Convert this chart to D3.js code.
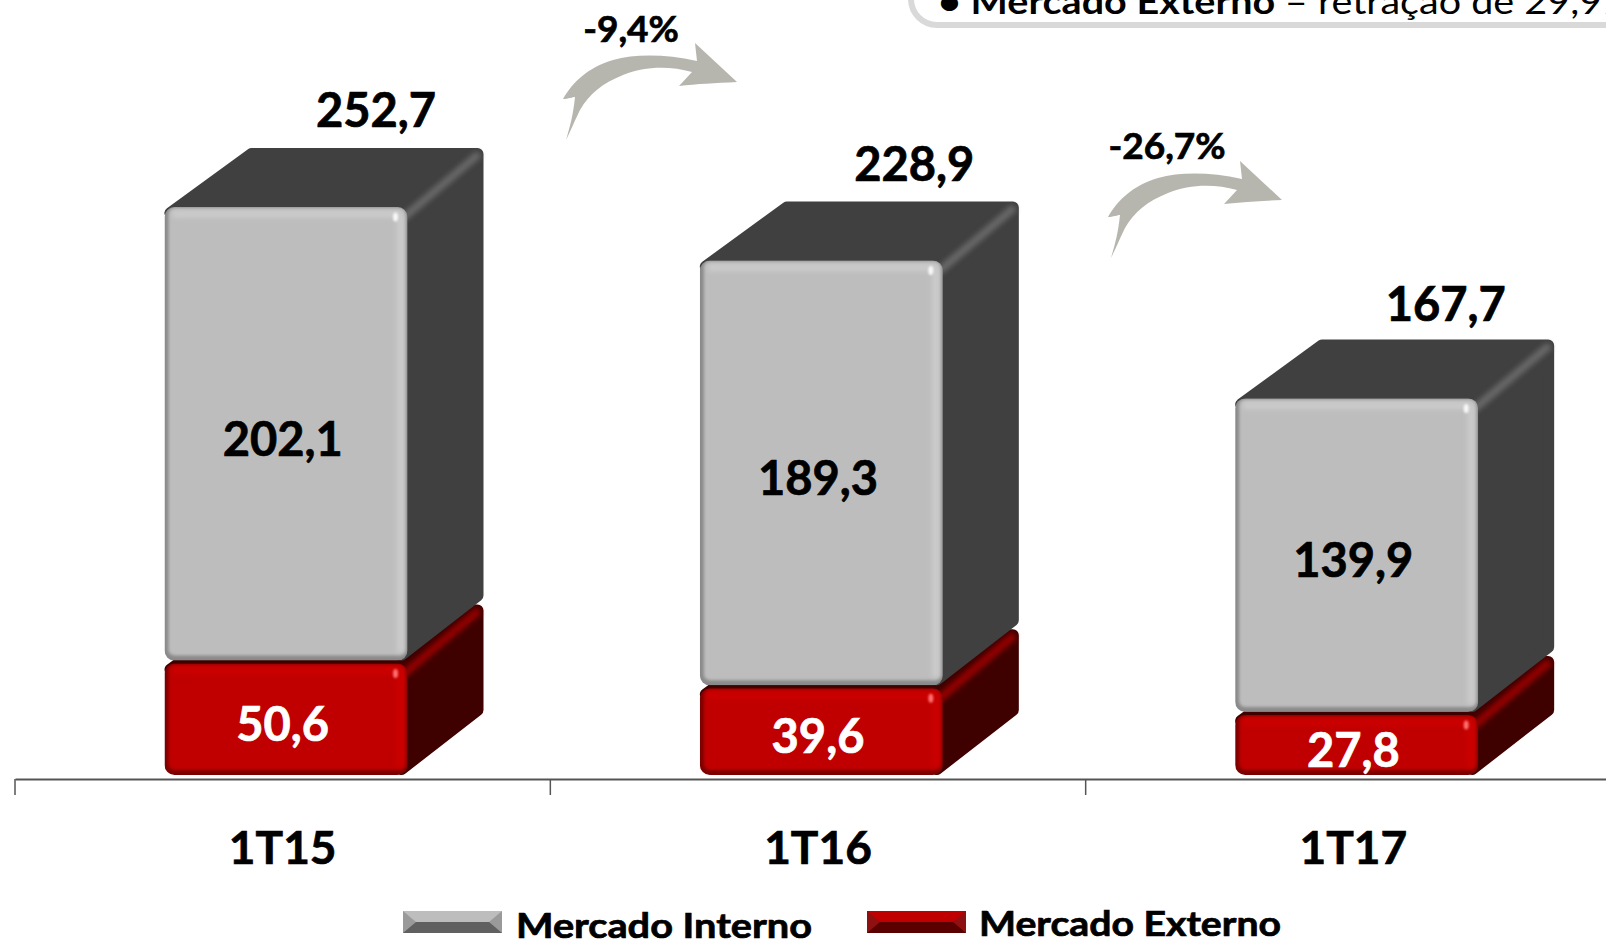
<!DOCTYPE html>
<html><head><meta charset="utf-8">
<script src="https://cdn.jsdelivr.net/npm/d3@7"></script>
<style>html,body{margin:0;padding:0;background:#fff;overflow:hidden}svg{display:block}text{font-family:Lato,"Open Sans",sans-serif;font-weight:700;fill:#000}.heavy{stroke:#000;stroke-width:.7px}.heavyw{stroke:#fff;stroke-width:.7px}</style>
</head><body><svg id="c" width="1606" height="942"></svg>
<script>
const categories = ["1T15","1T16","1T17"];
const interno = [202.1,189.3,139.9];
const externo = [50.6,39.6,27.8];
const totals = [252.7,228.9,167.7];
const changes = ["-9,4%","-26,7%"];
const seriesNames = ["Mercado Interno","Mercado Externo"];
const fmt = v => v.toFixed(1).replace(".",",");

const svg = d3.select("#c");
const x = d3.scaleBand().domain(categories).range([15,1621]);
const y = d3.scaleLinear().domain([0,252.7]).range([776,207]);
const frontW = 243, frontOff = 149.5, dx = 76, dy = -59, gap = 1.5;

const defs = svg.append("defs");
[["b1",1.6],["b2",2.4],["b3",0.8]].forEach(([id,s])=>
  defs.append("filter").attr("id",id).attr("x","-30%").attr("y","-30%").attr("width","160%").attr("height","160%")
    .append("feGaussianBlur").attr("stdDeviation",s));

const palette = {
  gray:{face:"#bdbdbd",edge:"#8a8a8a",light:"#cccccc",dark:"#404040",ridge:"#666666",spec:"#f8f8f8"},
  red:{face:"#c00000",edge:"#7d0000",light:"#cc0000",dark:"#3f0000",ridge:"#930000",spec:"#ff7070"}
};

function box(g,id,left,top,bottom,c){
  const right = left+frontW, r=6;
  const hull = [[left+r,top+r],[left+87,top+dy+r],[right+dx-r,top+r+dy],[right+dx-r,bottom-r+dy],[right-r,bottom-r]];
  g.append("path").attr("d",d3.line()(hull)+"Z").attr("fill",c.dark).attr("stroke",c.dark)
    .attr("stroke-width",r*2).attr("stroke-linejoin","round");
  const ridge = g.append("g").attr("filter","url(#b2)").attr("stroke",c.ridge).attr("stroke-linecap","round").attr("fill","none");
  ridge.append("line").attr("x1",right-2).attr("y1",top+9).attr("x2",right+dx-7).attr("y2",top+dy+8).attr("stroke-width",8);
  const cid = "clip"+id;
  defs.append("clipPath").attr("id",cid).append("rect").attr("x",left).attr("y",top).attr("width",frontW).attr("height",bottom-top).attr("rx",10);
  const f = g.append("g").attr("clip-path",`url(#${cid})`);
  f.append("rect").attr("x",left).attr("y",top).attr("width",frontW).attr("height",bottom-top).attr("fill",c.edge);
  f.append("rect").attr("x",left+4).attr("y",top+1).attr("width",frontW-6).attr("height",bottom-top-6).attr("rx",6).attr("fill",c.face).attr("filter","url(#b1)");
  const hl = f.append("g").attr("filter","url(#b2)").attr("stroke",c.light).attr("stroke-width",7).attr("fill","none");
  hl.append("line").attr("x1",left+8).attr("y1",top+7).attr("x2",right-6).attr("y2",top+7);
  hl.append("line").attr("x1",right-7).attr("y1",top+7).attr("x2",right-7).attr("y2",bottom-8);
  f.append("ellipse").attr("cx",right-12).attr("cy",top+10).attr("rx",2.5).attr("ry",4.5).attr("fill",c.spec).attr("filter","url(#b3)");
}

const rows = categories.map((c,i)=>({c,i,left:x(c)+frontOff,mi:interno[i],me:externo[i],t:totals[i]}));
const gBars = svg.append("g");
rows.forEach(d=>{
  const g = gBars.append("g");
  box(g,"r"+d.i,d.left,y(d.me)+gap,y(0)-1,palette.red);
  box(g,"g"+d.i,d.left,y(d.t),y(d.me)-gap,palette.gray);
});

// Value labels
const cx = d => x(d.c)+x.step()/2;
const totalNudge = [[1,0],[4,0],[0,3]];
svg.append("g").attr("class","heavy").selectAll("text").data(rows).join("text").attr("text-anchor","middle").attr("font-size",47)
  .attr("x",cx).attr("y",d=>(y(d.t)+y(d.me))/2+21).text(d=>fmt(d.mi));
svg.append("g").attr("class","heavyw").selectAll("text").data(rows).join("text").attr("text-anchor","middle").attr("font-size",47)
  .style("fill","#fff").attr("x",cx).attr("y",d=>(y(d.me)+y(0))/2+22).text(d=>fmt(d.me));
svg.append("g").attr("class","heavy").selectAll("text").data(rows).join("text").attr("text-anchor","middle").attr("font-size",47)
  .attr("x",d=>d.left+frontW/2+89+totalNudge[d.i][0]).attr("y",d=>y(d.t)+dy-21+totalNudge[d.i][1]).text(d=>fmt(d.t));

// Axis
const axis = svg.append("g").attr("transform","translate(0,779)").call(d3.axisBottom(x).tickSize(0));
axis.select(".domain").attr("stroke","#555").attr("stroke-width",2);
axis.selectAll("text").attr("class","heavy").attr("font-size",46).attr("y",85).attr("dy",0).style("font-family","Lato").style("font-weight",700).style("fill","#000");
axis.selectAll("line.edge").data(categories).join("line").attr("class","edge")
  .attr("x1",d=>x(d)).attr("x2",d=>x(d)).attr("y1",0).attr("y2",16).attr("stroke","#555").attr("stroke-width",1.5);

// Change arrows
const arrowShape = "M1,84 C5,70 8,60 10,41 C8,41 3,43 -2,43 C8,26 22,12 48,4 C70,-2 100,-2 132,5 L130,-13 L172,26 C150,27 132,28 114,30 L127,16 C105,10 80,10 58,19 C38,27 24,38 15,54 C11,62 6,74 1,84 Z";
const arrowAt = [[565,56],[1110,174]], changeAt = [[631,42],[1167,159]];
svg.append("g").selectAll("path").data(changes).join("path")
  .attr("transform",(d,i)=>`translate(${arrowAt[i]})`).attr("d",arrowShape).attr("fill","#b7b6ae");
svg.append("g").attr("class","heavy").selectAll("text").data(changes).join("text")
  .attr("x",(d,i)=>changeAt[i][0]).attr("y",(d,i)=>changeAt[i][1]).attr("text-anchor","middle").attr("font-size",37).text(d=>d);

// Legend
const legendX = [403,867], legendY=[911,911], textX=[516,979], textY=[938,936], textW=[296,302];
const swatch = [["#bdbdbd","#606060","#9a9a9a"],["#c00000","#5a0000","#8f1010"]];
seriesNames.forEach((n,i)=>{
  const g = svg.append("g").attr("transform",`translate(${legendX[i]},${legendY[i]})`);
  const w=99,h=22,b=13,m=11;
  g.append("rect").attr("width",w).attr("height",h).attr("fill",swatch[i][2]);
  g.append("path").attr("d",`M0,0H${w}L${w-b},${m}H${b}Z`).attr("fill",swatch[i][0]);
  g.append("path").attr("d",`M0,${h}H${w}L${w-b},${m}H${b}Z`).attr("fill",swatch[i][1]);
  svg.append("text").attr("class","heavy").attr("x",textX[i]).attr("y",textY[i]).attr("font-size",34)
    .attr("textLength",textW[i]).attr("lengthAdjust","spacingAndGlyphs").text(n);
});

// Callout panel cut off by the top edge
svg.append("rect").attr("x",911).attr("y",-70).attr("width",800).attr("height",95).attr("rx",26).attr("fill","#fff").attr("stroke","#d9d9d9").attr("stroke-width",6);
const t = svg.append("text").attr("transform","translate(938,14) scale(1.13,1)").attr("font-size",35);
t.append("tspan").text("• Mercado Externo ");
t.append("tspan").style("font-weight",400).text("– retração de 29,9%");
</script></body></html>
